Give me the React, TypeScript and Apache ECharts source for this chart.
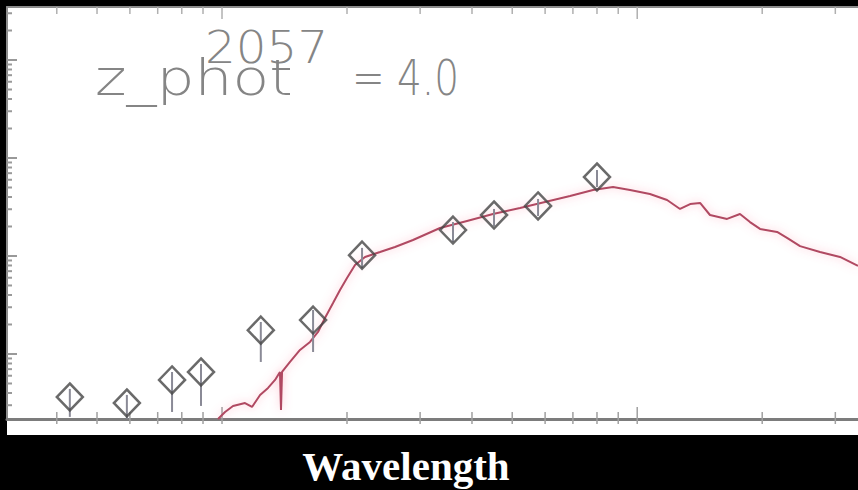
import { useEffect, useRef } from "react";
import * as echarts from "echarts";

// photometric points (wavelength in micron, flux in arbitrary units)
const PHOT_WAVELENGTH = [0.43, 0.59, 0.758, 0.89, 1.24, 1.657, 2.174, 3.6, 4.52, 5.77, 8.0];
const PHOT_FLUX = [0.364, 0.316, 0.543, 0.655, 1.75, 2.22, 10.2, 18.4, 26.2, 32.4, 64.0];
const PHOT_FLUX_LOW = [0.228, 0.218, 0.256, 0.295, 0.829, 1.048, 7.5, 13.9, 20.2, 25.6, 50.6];
const PHOT_FLUX_HIGH = [0.44, 0.382, 0.655, 0.791, 2.12, 2.81, 12.1, 22.2, 30.2, 38.2, 75.4];

// best-fit template
const MODEL_WAVELENGTH = [
  0.978, 1.017, 1.063, 1.136, 1.181, 1.235, 1.291, 1.342, 1.379, 1.387, 1.395, 1.458, 1.541,
  1.629, 1.703, 1.77, 1.851, 1.924, 2.0, 2.091, 2.21, 2.402, 2.61, 2.884, 3.35, 3.891, 4.494,
  5.221, 5.997, 6.89, 7.826, 8.745, 9.61, 10.73, 11.8, 12.68, 13.41, 14.17, 14.97, 16.46, 17.68,
  18.69, 19.76, 21.72, 22.95, 24.67, 27.56, 30.79, 34.02,
];
const MODEL_FLUX = [
  0.217, 0.256, 0.295, 0.316, 0.288, 0.382, 0.45, 0.543, 0.655, 0.268, 0.655, 0.829, 1.099,
  1.326, 1.677, 2.33, 3.31, 4.5, 5.97, 8.09, 9.77, 10.98, 12.36, 14.56, 19.3, 22.8, 26.8,
  30.9, 35.6, 40.9, 47.1, 50.6, 47.1, 42.9, 37.3, 30.2, 33.9, 34.8, 26.2, 23.9, 26.8,
  22.2, 18.9, 17.6, 15.3, 12.6, 11.0, 9.77, 7.91,
];

// axes
const X_RANGE = [0.3035, 34.02];
const Y_RANGE = [0.217, 3475];
const X_TICKS = [0.4, 0.5, 0.6, 0.7, 0.8, 0.9, 1, 2, 3, 4, 5, 6, 7, 8, 9, 10, 20, 30];
const X_MAJOR = [1, 10];
const Y_TICKS = [
  0.3, 0.4, 0.5, 0.6, 0.7, 0.8, 0.9, 1, 2, 3, 4, 5, 6, 7, 8, 9, 10, 20, 30, 40, 50, 60, 70, 80, 90,
  100, 200, 300, 400, 500, 600, 700, 800, 900, 1000, 2000, 3000,
];
const Y_MAJOR = [1, 10, 100, 1000];

// texts
const OBJECT_ID = "2057";
const Z_LABEL = "z_phot";
const Z_VALUE = "= 4.0";
const X_TITLE = "Wavelength";

const GRAY = "#858585";

export default function App() {
  const ref = useRef<HTMLDivElement>(null);

  useEffect(() => {
    if (!ref.current) return;
    const chart = echarts.init(ref.current, null, { renderer: "svg" });

    const hiddenAxis = {
      type: "log",
      logBase: 10,
      axisTick: { show: false },
      axisLabel: { show: false },
      splitLine: { show: false },
      minorTick: { show: false },
      minorSplitLine: { show: false },
    };

    const xTickData = X_TICKS.map((v) => [v, X_MAJOR.includes(v) ? 1 : 0]);
    const yTickData = Y_TICKS.map((v) => [v, Y_MAJOR.includes(v) ? 1 : 0]);

    const option: any = {
      animation: false,
      backgroundColor: "#000",
      grid: { left: 7, top: 7, width: 851, height: 412, containLabel: false },
      xAxis: [
        {
          ...hiddenAxis,
          position: "bottom",
          min: X_RANGE[0],
          max: X_RANGE[1],
          axisLine: { show: true, lineStyle: { color: "#7c7c7c", width: 3 } },
        },
        {
          ...hiddenAxis,
          position: "top",
          min: X_RANGE[0],
          max: X_RANGE[1],
          axisLine: { show: true, lineStyle: { color: "#8c8c8c", width: 2 } },
        },
      ],
      yAxis: [
        {
          ...hiddenAxis,
          position: "left",
          min: Y_RANGE[0],
          max: Y_RANGE[1],
          axisLine: { show: true, lineStyle: { color: "#8c8c8c", width: 2 } },
        },
      ],
      graphic: [
        {
          type: "rect",
          z: -10,
          shape: { x: 7, y: 6, width: 851, height: 429 },
          style: { fill: "#fff" },
        },
        {
          type: "text",
          z: 50,
          x: 205,
          y: 48,
          scaleX: 1.1,
          style: {
            text: OBJECT_ID,
            fill: GRAY,
            fontFamily: "DejaVu Sans",
            fontWeight: 200,
            fontSize: 44,
            align: "left",
            verticalAlign: "middle",
          },
        },
        {
          type: "text",
          z: 50,
          x: 95,
          y: 78,
          scaleX: 1.2,
          style: {
            text: Z_LABEL,
            fill: GRAY,
            fontFamily: "DejaVu Sans",
            fontWeight: 200,
            fontSize: 50,
            align: "left",
            verticalAlign: "middle",
          },
        },
        {
          type: "text",
          z: 50,
          x: 352,
          y: 78,
          scaleX: 0.78,
          style: {
            text: Z_VALUE,
            fill: GRAY,
            fontFamily: "DejaVu Sans",
            fontWeight: 200,
            fontSize: 50,
            align: "left",
            verticalAlign: "middle",
          },
        },
        {
          type: "text",
          z: 50,
          x: 406,
          y: 466,
          style: {
            text: X_TITLE,
            fill: "#fff",
            fontFamily: "Liberation Serif",
            fontWeight: "bold",
            fontSize: 41,
            align: "center",
            verticalAlign: "middle",
          },
        },
      ],
      series: [
        {
          type: "custom",
          name: "xticks",
          xAxisIndex: 0,
          yAxisIndex: 0,
          clip: false,
          silent: true,
          data: xTickData,
          renderItem: (_p: any, api: any) => {
            const major = api.value(1) === 1;
            const b = api.coord([api.value(0), Y_RANGE[0]]);
            const t = api.coord([api.value(0), Y_RANGE[1]]);
            const len = major ? 12 : 7;
            return {
              type: "group",
              children: [
                {
                  type: "line",
                  shape: { x1: b[0], y1: b[1] + 5, x2: b[0], y2: b[1] - len },
                  style: { stroke: "#a0a0a0", lineWidth: 1.5 },
                },
                {
                  type: "line",
                  shape: { x1: t[0], y1: t[1], x2: t[0], y2: t[1] + len },
                  style: { stroke: "#b0b0b0", lineWidth: 1.5 },
                },
              ],
            };
          },
        },
        {
          type: "custom",
          name: "yticks",
          xAxisIndex: 0,
          yAxisIndex: 0,
          clip: false,
          silent: true,
          data: yTickData,
          renderItem: (_p: any, api: any) => {
            const major = api.value(1) === 1;
            const p = api.coord([X_RANGE[0], api.value(0)]);
            const len = major ? 10 : 5;
            return {
              type: "line",
              shape: { x1: p[0], y1: p[1], x2: p[0] + len, y2: p[1] },
              style: { stroke: "#999", lineWidth: 2 },
            };
          },
        },
        {
          type: "line",
          name: "model",
          xAxisIndex: 0,
          yAxisIndex: 0,
          showSymbol: false,
          z: 3,
          data: MODEL_WAVELENGTH.map((x, i) => [x, MODEL_FLUX[i]]),
          lineStyle: {
            color: "#b04a62",
            width: 2,
            shadowColor: "rgba(255,110,140,0.5)",
            shadowBlur: 8,
          },
        },
        {
          type: "custom",
          name: "errors",
          xAxisIndex: 0,
          yAxisIndex: 0,
          z: 4,
          clip: false,
          data: PHOT_WAVELENGTH.map((x, i) => [x, PHOT_FLUX_LOW[i], PHOT_FLUX_HIGH[i]]),
          renderItem: (_p: any, api: any) => {
            const lo = api.coord([api.value(0), api.value(1)]);
            const hi = api.coord([api.value(0), api.value(2)]);
            return {
              type: "line",
              shape: { x1: lo[0], y1: lo[1], x2: hi[0], y2: hi[1] },
              style: { stroke: "#8a8a96", lineWidth: 2 },
            };
          },
        },
        {
          type: "scatter",
          name: "photometry",
          xAxisIndex: 0,
          yAxisIndex: 0,
          z: 5,
          symbol: "diamond",
          symbolSize: [26, 27],
          data: PHOT_WAVELENGTH.map((x, i) => [x, PHOT_FLUX[i]]),
          itemStyle: {
            color: "rgba(255,255,255,0)",
            borderColor: "#454545",
            borderWidth: 2.5,
          },
        },
      ],
    };

    chart.setOption(option);
    return () => chart.dispose();
  }, []);

  return (
    <div
      style={{
        position: "fixed",
        left: 0,
        top: 0,
        width: 858,
        height: 490,
        background: "#000",
      }}
    >
      <div ref={ref} style={{ width: 858, height: 490 }} />
    </div>
  );
}
